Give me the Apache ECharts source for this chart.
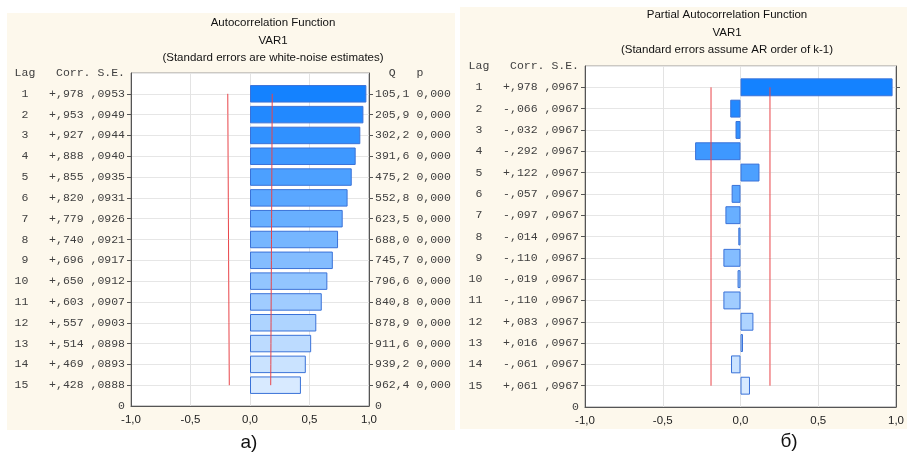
<!DOCTYPE html>
<html>
<head>
<meta charset="utf-8">
<script src="https://cdn.jsdelivr.net/npm/echarts@6/dist/echarts.min.js"></script>
<style>
  html, body { margin: 0; padding: 0; background: #ffffff; }
  #chart { width: 907px; height: 452px; }
</style>
</head>
<body>
<div id="chart"></div>
<script>
// Sample autocorrelation (ACF) and partial autocorrelation (PACF) of VAR1, lags 1..15
const lags = [1, 2, 3, 4, 5, 6, 7, 8, 9, 10, 11, 12, 13, 14, 15];

const acfCorr = [0.978, 0.953, 0.927, 0.888, 0.855, 0.820, 0.779, 0.740, 0.696, 0.650, 0.603, 0.557, 0.514, 0.469, 0.428];
const acfSE   = [0.0953, 0.0949, 0.0944, 0.0940, 0.0935, 0.0931, 0.0926, 0.0921, 0.0917, 0.0912, 0.0907, 0.0903, 0.0898, 0.0893, 0.0888];
const acfQ    = [105.1, 205.9, 302.2, 391.6, 475.2, 552.8, 623.5, 688.0, 745.7, 796.6, 840.8, 878.9, 911.6, 939.2, 962.4];
const acfP    = [0, 0, 0, 0, 0, 0, 0, 0, 0, 0, 0, 0, 0, 0, 0];

const pacfCorr = [0.978, -0.066, -0.032, -0.292, 0.122, -0.057, -0.097, -0.014, -0.110, -0.019, -0.110, 0.083, 0.016, -0.061, 0.061];
const pacfSE   = [0.0967, 0.0967, 0.0967, 0.0967, 0.0967, 0.0967, 0.0967, 0.0967, 0.0967, 0.0967, 0.0967, 0.0967, 0.0967, 0.0967, 0.0967];

const xTicks = [-1, -0.5, 0, 0.5, 1];

// z-value of the confidence band drawn around zero
const Z = 1.96;

// ---- formatting helpers (comma decimal separator) ----
const fmtCorr = v => (v < 0 ? '-' : '+') + Math.abs(v).toFixed(3).slice(1).replace('.', ',');
const fmtSE = v => v.toFixed(4).slice(1).replace('.', ',');
const fmtQ = v => v.toFixed(1).replace('.', ',');
const fmtP = v => v.toFixed(3).replace('.', ',');
const fmtTick = v => v.toFixed(1).replace('.', ',');

// Lag axis: slot 0 is the header row, slots 1..15 the lags, last slot is "0"
const cats = ['hdr'].concat(lags.map(String), ['base']);
const LAST = cats.length - 1;

function rowLabels(corr, se) {
  return ['Lag   Corr. S.E.']
    .concat(lags.map((l, i) => String(l).padStart(2, ' ') + '   ' + fmtCorr(corr[i]) + ' ' + fmtSE(se[i])))
    .concat(['0']);
}
const acfLeft = rowLabels(acfCorr, acfSE);
const acfRight = ['  Q   p'].concat(lags.map((l, i) => fmtQ(acfQ[i]) + ' ' + fmtP(acfP[i]))).concat(['0']);
const pacfLeft = rowLabels(pacfCorr, pacfSE);

// bar fill fades from saturated to pale blue with increasing lag
const c0 = [20, 130, 255], c1 = [216, 234, 255];
function shade(i) {
  const t = i / (lags.length - 1);
  const c = c0.map((a, k) => Math.round(a + (c1[k] - a) * t));
  return 'rgb(' + c.join(',') + ')';
}
function barData(corr) {
  return ['-'].concat(corr.map((v, i) => ({ value: v, itemStyle: { color: shade(i) } }))).concat(['-']);
}
function bandData(se, sign) {
  return ['-'].concat(se.map(s => sign * Z * s)).concat(['-']);
}

const mono = '"Liberation Mono", "DejaVu Sans Mono", monospace';
const sans = '"Liberation Sans", Arial, sans-serif';

function xAxisFor(gi) {
  return {
    gridIndex: gi, type: 'value', min: xTicks[0], max: xTicks[xTicks.length - 1], interval: 0.5,
    axisLine: { show: true, onZero: false, lineStyle: { color: '#555', width: 1 } },
    axisTick: { show: false },
    axisLabel: { formatter: fmtTick, fontFamily: sans, fontSize: 11.5, color: '#222', margin: 8 },
    splitLine: { show: true, lineStyle: { color: '#e3e3e3', width: 1 } }
  };
}
function yAxisFor(gi, pos, labels) {
  return {
    gridIndex: gi, type: 'category', inverse: true, boundaryGap: false, data: cats, position: pos,
    axisLine: { show: true, onZero: false, lineStyle: { color: '#555', width: 1 } },
    axisTick: { show: true, length: 4, interval: i => i > 0 && i < LAST, lineStyle: { color: '#555' } },
    axisLabel: labels ? {
      show: true, interval: 0, margin: 6,
      formatter: (v, i) => labels[i],
      fontFamily: mono, fontSize: 11.5, color: '#404040'
    } : { show: false },
    splitLine: { show: pos === 'left', interval: 0, lineStyle: { color: '#e6e6e6', width: 1 } }
  };
}
function barSeries(gi, corr) {
  return {
    type: 'bar', xAxisIndex: gi, yAxisIndex: gi * 2, data: barData(corr),
    barWidth: '84%', silent: true,
    itemStyle: { borderColor: '#3a72d8', borderWidth: 1 }
  };
}
function bandSeries(gi, se, sign) {
  return {
    type: 'line', xAxisIndex: gi, yAxisIndex: gi * 2, data: bandData(se, sign),
    symbol: 'none', silent: true, z: 5,
    lineStyle: { color: '#e9454a', width: 1 }
  };
}
function txt(x, y, text, size) {
  return {
    type: 'text', x: x, y: y, silent: true,
    style: { text: text, fill: '#111', font: (size || 11.5) + 'px ' + sans, textAlign: 'center', textVerticalAlign: 'middle' }
  };
}

const chart = echarts.init(document.getElementById('chart'), null, { renderer: 'canvas' });
chart.setOption({
  animation: false,
  backgroundColor: '#ffffff',
  graphic: [
    { type: 'rect', z: -10, silent: true, shape: { x: 7, y: 13, width: 448, height: 417 }, style: { fill: '#fdf8ec' } },
    { type: 'rect', z: -10, silent: true, shape: { x: 460, y: 7, width: 447, height: 422 }, style: { fill: '#fdf8ec' } },
    txt(273, 23, 'Autocorrelation Function'),
    txt(273, 41, 'VAR1'),
    txt(273, 58, '(Standard errors are white-noise estimates)'),
    txt(727, 15, 'Partial Autocorrelation Function'),
    txt(727, 33, 'VAR1'),
    txt(727, 50, '(Standard errors assume AR order of k-1)'),
    txt(249, 443, 'а)', 19),
    txt(789, 442, 'б)', 19)
  ],
  grid: [
    { left: 131, top: 73, width: 238, height: 333, show: true, backgroundColor: '#ffffff', borderColor: '#9a9a9a', borderWidth: 1 },
    { left: 585, top: 66, width: 314, height: 341, show: true, backgroundColor: '#ffffff', borderColor: '#9a9a9a', borderWidth: 1 }
  ],
  xAxis: [xAxisFor(0), xAxisFor(1)],
  yAxis: [
    yAxisFor(0, 'left', acfLeft),
    yAxisFor(0, 'right', acfRight),
    yAxisFor(1, 'left', pacfLeft),
    yAxisFor(1, 'right', null)
  ],
  series: [
    barSeries(0, acfCorr),
    bandSeries(0, acfSE, -1),
    bandSeries(0, acfSE, 1),
    barSeries(1, pacfCorr),
    bandSeries(1, pacfSE, -1),
    bandSeries(1, pacfSE, 1)
  ]
});
</script>
</body>
</html>
